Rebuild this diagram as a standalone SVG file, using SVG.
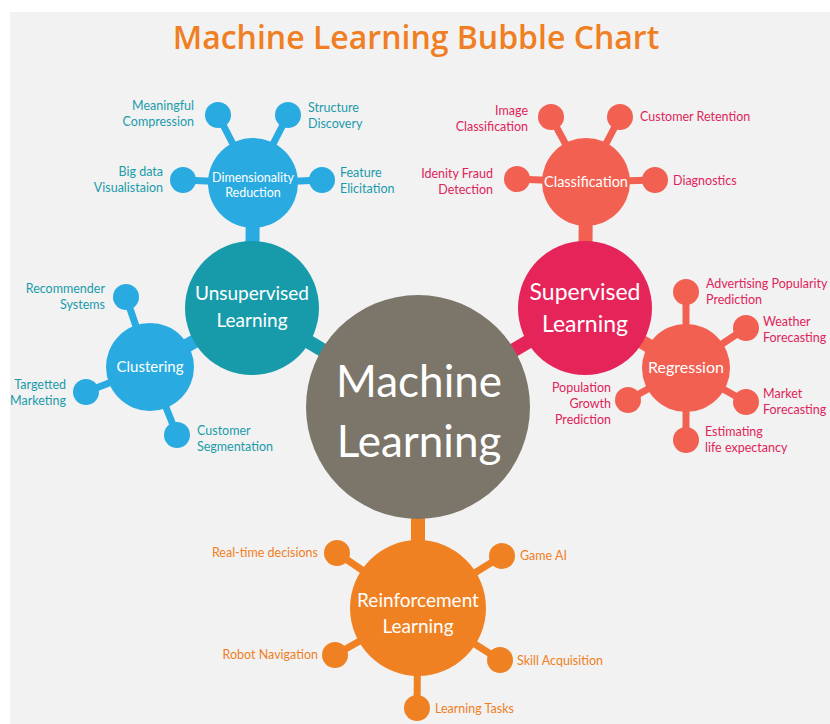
<svg xmlns="http://www.w3.org/2000/svg" width="830" height="724" viewBox="0 0 830 724">
<style>
text{font-family:Lato,"Open Sans","DejaVu Sans",sans-serif}
.title{font-family:"Open Sans","Liberation Sans",sans-serif;font-weight:600;font-size:32px;fill:#f07f24}
.w{fill:#fff;text-anchor:middle}
.lb{font-size:12.5px}
.tb{fill:#1a9bab}
.tr{fill:#e0245a}
.to{fill:#f07f24}
.e{text-anchor:end}
.c-blue{fill:#29abe2}
.c-teal{fill:#179bab}
.c-main{fill:#7b7669}
.c-crim{fill:#e5245a}
.c-sal{fill:#f26052}
.c-or{fill:#f08122}
.s-blue{stroke:#29abe2}
.s-teal{stroke:#179bab}
.s-crim{stroke:#e5245a}
.s-sal{stroke:#f26052}
.s-or{stroke:#f08122}
.thin{stroke-width:7;fill:none}
.thick{stroke-width:14;fill:none}
</style>
<rect x="0" y="0" width="830" height="724" fill="#ffffff"/>
<rect x="10" y="12" width="820" height="712" fill="#f2f2f2"/>
<text class="title" x="416" y="49" text-anchor="middle">Machine Learning Bubble Chart</text>

<g id="connectors">
  <line class="thick s-teal" x1="252" y1="308" x2="418" y2="407"/>
  <line class="thick s-crim" x1="585" y1="308" x2="418" y2="407"/>
  <line class="thick s-or" x1="418" y1="407" x2="418" y2="608"/>
  <line class="thick s-blue" x1="253" y1="183" x2="252" y2="308"/>
  <line class="thick s-blue" x1="150" y1="367" x2="252" y2="308"/>
  <line class="thick s-sal" x1="586" y1="182" x2="585" y2="308"/>
  <line class="thick s-sal" x1="686" y1="368" x2="585" y2="308"/>

  <line class="thin s-blue" x1="253" y1="183" x2="218" y2="115"/>
  <line class="thin s-blue" x1="253" y1="183" x2="288" y2="115"/>
  <line class="thin s-blue" x1="253" y1="183" x2="183" y2="180"/>
  <line class="thin s-blue" x1="253" y1="183" x2="322" y2="180"/>

  <line class="thin s-blue" x1="150" y1="367" x2="126" y2="297"/>
  <line class="thin s-blue" x1="150" y1="367" x2="86" y2="392"/>
  <line class="thin s-blue" x1="150" y1="367" x2="177" y2="435"/>

  <line class="thin s-sal" x1="586" y1="182" x2="551" y2="117"/>
  <line class="thin s-sal" x1="586" y1="182" x2="620" y2="117"/>
  <line class="thin s-sal" x1="586" y1="182" x2="517" y2="179"/>
  <line class="thin s-sal" x1="586" y1="182" x2="655" y2="180"/>

  <line class="thin s-sal" x1="686" y1="368" x2="686" y2="292"/>
  <line class="thin s-sal" x1="686" y1="368" x2="746" y2="328"/>
  <line class="thin s-sal" x1="686" y1="368" x2="746" y2="402"/>
  <line class="thin s-sal" x1="686" y1="368" x2="686" y2="440"/>
  <line class="thin s-sal" x1="686" y1="368" x2="628" y2="400"/>

  <line class="thin s-or" x1="418" y1="608" x2="337" y2="553"/>
  <line class="thin s-or" x1="418" y1="608" x2="502" y2="556"/>
  <line class="thin s-or" x1="418" y1="608" x2="335" y2="655"/>
  <line class="thin s-or" x1="418" y1="608" x2="500" y2="660"/>
  <line class="thin s-or" x1="418" y1="608" x2="417" y2="708"/>
</g>

<g id="machine-learning">
  <circle class="c-main" cx="418" cy="407" r="112"/>
  <text class="w" x="419" y="397" font-size="44">Machine</text>
  <text class="w" x="419" y="457" font-size="44">Learning</text>
</g>

<g id="unsupervised">
  <circle class="c-teal" cx="252" cy="308" r="67"/>
  <text class="w" x="252" y="300" font-size="19">Unsupervised</text>
  <text class="w" x="252" y="327" font-size="19">Learning</text>
</g>

<g id="dimensionality">
  <circle class="c-blue" cx="253" cy="183" r="45"/>
  <text class="w" x="253" y="182" font-size="12.5">Dimensionality</text>
  <text class="w" x="253" y="197" font-size="12.5">Reduction</text>
</g>
<g id="dim-compression">
  <circle class="c-blue" cx="218" cy="115" r="13"/>
  <text class="lb tb e" x="194" y="110">Meaningful</text>
  <text class="lb tb e" x="194" y="126">Compression</text>
</g>
<g id="dim-structure">
  <circle class="c-blue" cx="288" cy="115" r="13"/>
  <text class="lb tb" x="308" y="112">Structure</text>
  <text class="lb tb" x="308" y="128">Discovery</text>
</g>
<g id="dim-bigdata">
  <circle class="c-blue" cx="183" cy="180" r="13"/>
  <text class="lb tb e" x="163" y="176">Big data</text>
  <text class="lb tb e" x="163" y="192">Visualistaion</text>
</g>
<g id="dim-feature">
  <circle class="c-blue" cx="322" cy="180" r="13"/>
  <text class="lb tb" x="340" y="177">Feature</text>
  <text class="lb tb" x="340" y="193">Elicitation</text>
</g>

<g id="clustering">
  <circle class="c-blue" cx="150" cy="367" r="44"/>
  <text class="w" x="150" y="372" font-size="15">Clustering</text>
</g>
<g id="clu-recommender">
  <circle class="c-blue" cx="126" cy="297" r="13"/>
  <text class="lb tb e" x="105" y="293">Recommender</text>
  <text class="lb tb e" x="105" y="309">Systems</text>
</g>
<g id="clu-marketing">
  <circle class="c-blue" cx="86" cy="392" r="13"/>
  <text class="lb tb e" x="66" y="389">Targetted</text>
  <text class="lb tb e" x="66" y="405">Marketing</text>
</g>
<g id="clu-segmentation">
  <circle class="c-blue" cx="177" cy="435" r="13"/>
  <text class="lb tb" x="197" y="435">Customer</text>
  <text class="lb tb" x="197" y="451">Segmentation</text>
</g>

<g id="supervised">
  <circle class="c-crim" cx="585" cy="308" r="67"/>
  <text class="w" x="585" y="300" font-size="23">Supervised</text>
  <text class="w" x="585" y="332" font-size="23">Learning</text>
</g>

<g id="classification">
  <circle class="c-sal" cx="586" cy="182" r="44"/>
  <text class="w" x="586" y="187" font-size="14.5">Classification</text>
</g>
<g id="cls-image">
  <circle class="c-sal" cx="551" cy="117" r="13"/>
  <text class="lb tr e" x="528" y="115">Image</text>
  <text class="lb tr e" x="528" y="131">Classification</text>
</g>
<g id="cls-retention">
  <circle class="c-sal" cx="620" cy="117" r="13"/>
  <text class="lb tr" x="640" y="121">Customer Retention</text>
</g>
<g id="cls-fraud">
  <circle class="c-sal" cx="517" cy="179" r="13"/>
  <text class="lb tr e" x="493" y="178">Idenity Fraud</text>
  <text class="lb tr e" x="493" y="194">Detection</text>
</g>
<g id="cls-diagnostics">
  <circle class="c-sal" cx="655" cy="180" r="13"/>
  <text class="lb tr" x="673" y="185">Diagnostics</text>
</g>

<g id="regression">
  <circle class="c-sal" cx="686" cy="368" r="44"/>
  <text class="w" x="686" y="373" font-size="16">Regression</text>
</g>
<g id="reg-advertising">
  <circle class="c-sal" cx="686" cy="292" r="13"/>
  <text class="lb tr" x="706" y="288">Advertising Popularity</text>
  <text class="lb tr" x="706" y="304">Prediction</text>
</g>
<g id="reg-weather">
  <circle class="c-sal" cx="746" cy="328" r="13"/>
  <text class="lb tr" x="763" y="326">Weather</text>
  <text class="lb tr" x="763" y="342">Forecasting</text>
</g>
<g id="reg-market">
  <circle class="c-sal" cx="746" cy="402" r="13"/>
  <text class="lb tr" x="763" y="398">Market</text>
  <text class="lb tr" x="763" y="414">Forecasting</text>
</g>
<g id="reg-life">
  <circle class="c-sal" cx="686" cy="440" r="13"/>
  <text class="lb tr" x="705" y="436">Estimating</text>
  <text class="lb tr" x="705" y="452">life expectancy</text>
</g>
<g id="reg-population">
  <circle class="c-sal" cx="628" cy="400" r="13"/>
  <text class="lb tr e" x="611" y="392">Population</text>
  <text class="lb tr e" x="611" y="408">Growth</text>
  <text class="lb tr e" x="611" y="424">Prediction</text>
</g>

<g id="reinforcement">
  <circle class="c-or" cx="418" cy="608" r="68"/>
  <text class="w" x="418" y="607" font-size="19">Reinforcement</text>
  <text class="w" x="418" y="633" font-size="19">Learning</text>
</g>
<g id="rl-realtime">
  <circle class="c-or" cx="337" cy="553" r="13"/>
  <text class="lb to e" x="318" y="557">Real-time decisions</text>
</g>
<g id="rl-game">
  <circle class="c-or" cx="502" cy="556" r="13"/>
  <text class="lb to" x="520" y="560">Game AI</text>
</g>
<g id="rl-robot">
  <circle class="c-or" cx="335" cy="655" r="13"/>
  <text class="lb to e" x="318" y="659">Robot Navigation</text>
</g>
<g id="rl-skill">
  <circle class="c-or" cx="500" cy="660" r="13"/>
  <text class="lb to" x="517" y="665">Skill Acquisition</text>
</g>
<g id="rl-tasks">
  <circle class="c-or" cx="417" cy="708" r="13"/>
  <text class="lb to" x="435" y="713">Learning Tasks</text>
</g>
</svg>
